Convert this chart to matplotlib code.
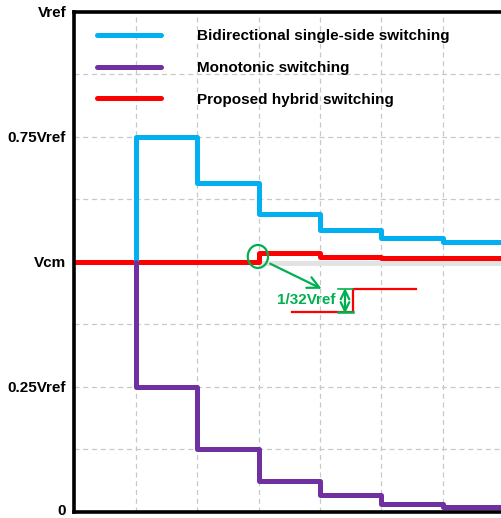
import matplotlib
matplotlib.use("Agg")
import matplotlib.pyplot as plt
import matplotlib.transforms as mtransforms
from matplotlib.patches import Ellipse

plt.rcParams['font.family'] = ['Liberation Sans', 'DejaVu Sans']
plt.rcParams['font.weight'] = 'bold'

# conversion steps (x) and DAC output (in Vref)
steps_bi = [1, 1, 2, 3, 4, 5, 6, 7]
v_bi = [0.5, 0.75, 0.657, 0.595, 0.563, 0.547, 0.539, 0.539]

steps_mono = [1, 1, 2, 3, 4, 5, 6, 7]
v_mono = [0.5, 0.25, 0.125, 0.0625, 0.033, 0.016, 0.0105, 0.0105]

steps_hyb = [0, 1, 2, 3, 4, 5, 6, 7]
v_hyb = [0.5, 0.5, 0.5, 0.517, 0.509, 0.507, 0.507, 0.507]

# zoomed inset of the 1/32 Vref step
inset_x = [3.55, 4.54, 5.56]
inset_y = [0.399, 0.446, 0.446]

ytick_pos = [0, 0.125, 0.25, 0.375, 0.5, 0.625, 0.75, 0.875, 1.0]
ytick_lab = ['0', '', '0.25Vref', '', 'Vcm', '', '0.75Vref', '', 'Vref']
xgrid = [1, 2, 3, 4, 5, 6]

c_blue = '#00b0f0'
c_purple = '#7030a0'
c_red = '#ff0000'
c_green = '#00b050'

fig = plt.figure(figsize=(5.02, 5.18), dpi=100)
ax = fig.add_axes([0.1484, 0.0116, 0.8516, 0.9653])

ax.set_xlim(0, 6.97)
ax.set_ylim(0, 1.0)
ax.set_xticks(xgrid)
ax.set_xticklabels([])
ax.set_yticks(ytick_pos)
ax.set_yticklabels(ytick_lab, fontsize=11, fontweight='bold')
ax.tick_params(length=0, pad=6)
ax.grid(True, linestyle=(0, (4, 3)), color='#c8c8c8', linewidth=0.9)
ax.set_axisbelow(True)
# nudge the bottom "0" up a little so it stays inside the picture
lab0 = ax.get_yticklabels()[0]
lab0.set_transform(lab0.get_transform() + mtransforms.ScaledTranslation(0, 2 / 100, fig.dpi_scale_trans))

for s in ['left', 'top', 'bottom']:
    ax.spines[s].set_linewidth(2.6)
    ax.spines[s].set_color('black')
ax.spines['right'].set_visible(False)

# light trace of Vcm under the hybrid curve
ax.plot([3, 7], [0.497, 0.497], color='#e2e2e2', lw=3.5, zorder=1.5, solid_capstyle='butt')

ax.step(steps_hyb, v_hyb, where='post', color=c_red, lw=3.6, zorder=2,
        label='Proposed hybrid switching', solid_capstyle='round')
ax.step(steps_bi, v_bi, where='post', color=c_blue, lw=3.6, zorder=3,
        label='Bidirectional single-side switching', solid_capstyle='round')
ax.step(steps_mono, v_mono, where='post', color=c_purple, lw=3.6, zorder=3,
        label='Monotonic switching', solid_capstyle='round')

# annotation: circle, arrow, inset step and 1/32Vref marker
ax.add_patch(Ellipse((2.99, 0.511), 0.33, 0.046, fill=False, edgecolor=c_green, lw=1.6, zorder=4))
ax.annotate('', xy=(4.07, 0.444), xytext=(3.15, 0.499),
            arrowprops=dict(arrowstyle='->,head_length=0.6,head_width=0.3',
                            color=c_green, lw=1.6, mutation_scale=14))
ax.plot(inset_x, inset_y, drawstyle='steps-post', color=c_red, lw=1.6, zorder=3)
ax.plot([4.30, 4.54], [0.399, 0.399], color=c_green, lw=1.8, zorder=4)
ax.plot([4.30, 4.54], [0.446, 0.446], color=c_green, lw=1.2, zorder=4)
ax.annotate('', xy=(4.41, 0.448), xytext=(4.41, 0.397),
            arrowprops=dict(arrowstyle='<->,head_length=0.45,head_width=0.22',
                            color=c_green, lw=1.6, mutation_scale=14,
                            shrinkA=0, shrinkB=0))
ax.text(3.78, 0.423, '1/32Vref', color=c_green, fontsize=11, fontweight='bold',
        ha='center', va='center')

handles, labels = ax.get_legend_handles_labels()
order = [1, 2, 0]
ax.legend([handles[i] for i in order], [labels[i] for i in order],
          loc='upper left', bbox_to_anchor=(0.0526, 0.965), frameon=False,
          handlelength=4.2, handletextpad=2.35, labelspacing=1.15,
          borderpad=0, borderaxespad=0, prop={'weight': 'bold', 'size': 11})

fig.savefig('out.png', dpi=100)
